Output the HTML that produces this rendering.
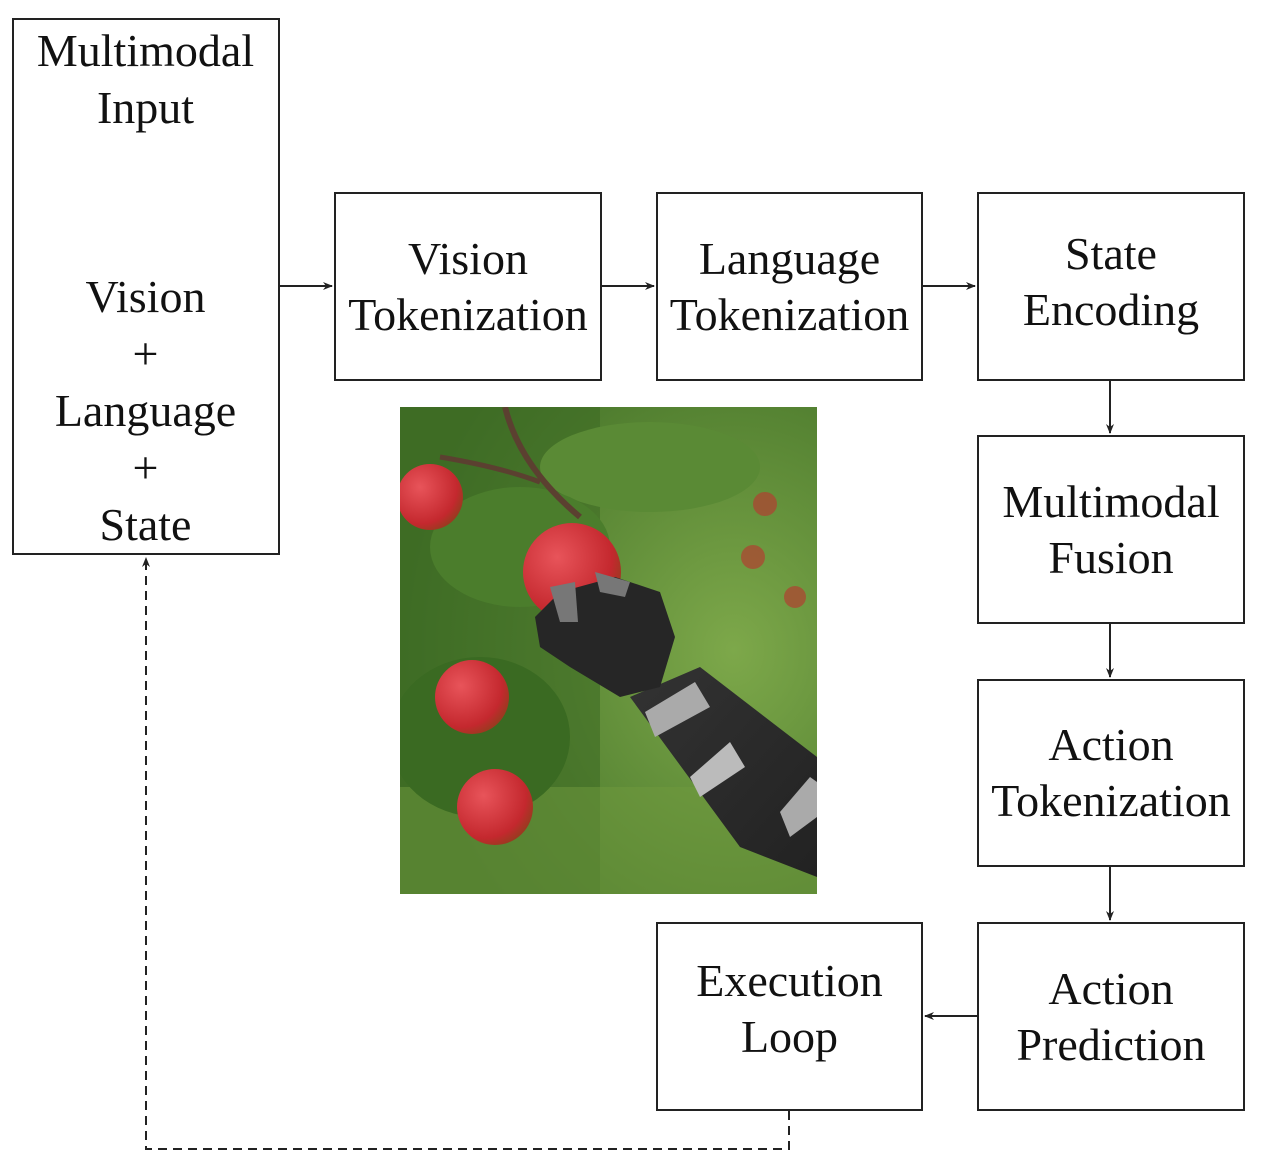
<!DOCTYPE html>
<html><head><style>
body{margin:0;width:1264px;height:1172px;background:#fff;position:relative;overflow:hidden;font-family:"Liberation Serif",serif;}
.b{position:absolute;border:2px solid #222;box-sizing:border-box;display:flex;flex-direction:column;align-items:center;justify-content:center;font-size:46px;line-height:56px;color:#111;text-align:center;white-space:nowrap;}
.t{position:absolute;font-size:46px;color:#111;width:267px;text-align:center;left:12px;}
</style></head><body>
<div class="b" style="left:12px;top:18px;width:268px;height:537px;"></div>
<div class="t" style="top:22px;line-height:57px">Multimodal<br>Input</div>
<div class="t" style="top:268px;line-height:57px">Vision<br>+<br>Language<br>+<br>State</div>
<div class="b" style="left:334px;top:192px;width:268px;height:189px;">Vision<br>Tokenization</div>
<div class="b" style="left:656px;top:192px;width:267px;height:189px;">Language<br>Tokenization</div>
<div class="b" style="left:977px;top:192px;width:268px;height:189px;padding-bottom:10px">State<br>Encoding</div>
<div class="b" style="left:977px;top:435px;width:268px;height:189px;">Multimodal<br>Fusion</div>
<div class="b" style="left:977px;top:679px;width:268px;height:188px;">Action<br>Tokenization</div>
<div class="b" style="left:977px;top:922px;width:268px;height:189px;">Action<br>Prediction</div>
<div class="b" style="left:656px;top:922px;width:267px;height:189px;padding-bottom:16px">Execution<br>Loop</div>
<svg width="1264" height="1172" style="position:absolute;left:0;top:0">
<defs><marker id="a" markerWidth="10" markerHeight="8" refX="9" refY="4" orient="auto" markerUnits="userSpaceOnUse"><path d="M0,0 L10,4 L0,8 L3,4z" fill="#222"/></marker>
<radialGradient id="bg" cx="0.8" cy="0.5" r="0.8"><stop offset="0" stop-color="#7da84a"/><stop offset="1" stop-color="#3f6e25"/></radialGradient>
<radialGradient id="ap" cx="0.35" cy="0.35" r="0.7"><stop offset="0" stop-color="#e8545a"/><stop offset="0.8" stop-color="#c4282e"/><stop offset="1" stop-color="#9a3a20"/></radialGradient>
<linearGradient id="arm" x1="0" y1="0" x2="1" y2="1"><stop offset="0" stop-color="#333"/><stop offset="1" stop-color="#222"/></linearGradient></defs>
<g stroke="#222" stroke-width="2" fill="none">
<line x1="280" y1="286" x2="332" y2="286" marker-end="url(#a)"/>
<line x1="602" y1="286" x2="654" y2="286" marker-end="url(#a)"/>
<line x1="923" y1="286" x2="975" y2="286" marker-end="url(#a)"/>
<line x1="1110" y1="381" x2="1110" y2="433" marker-end="url(#a)"/>
<line x1="1110" y1="624" x2="1110" y2="677" marker-end="url(#a)"/>
<line x1="1110" y1="867" x2="1110" y2="920" marker-end="url(#a)"/>
<line x1="977" y1="1016" x2="925" y2="1016" marker-end="url(#a)"/>
<path d="M789,1111 V1149 H146 V558" stroke-dasharray="9,6" marker-end="url(#a)"/>
</g>
<svg x="400" y="407" width="417" height="487" viewBox="0 0 417 487">
<rect width="417" height="487" fill="url(#bg)"/>
<rect x="0" y="0" width="200" height="487" fill="#3d6b24" opacity="0.6"/>
<rect x="0" y="380" width="417" height="107" fill="#6f9a3e" opacity="0.5"/>
<ellipse cx="250" cy="60" rx="110" ry="45" fill="#5a8a35"/>
<ellipse cx="120" cy="140" rx="90" ry="60" fill="#4b7d2c"/>
<ellipse cx="80" cy="330" rx="90" ry="80" fill="#3a6a22"/>
<path d="M105,0 Q120,60 180,110" stroke="#5b4030" stroke-width="6" fill="none"/>
<path d="M40,50 Q100,60 140,75" stroke="#5b4030" stroke-width="5" fill="none"/>
<circle cx="30" cy="90" r="33" fill="url(#ap)"/>
<circle cx="172" cy="165" r="49" fill="url(#ap)"/>
<circle cx="72" cy="290" r="37" fill="url(#ap)"/>
<circle cx="95" cy="400" r="38" fill="url(#ap)"/>
<circle cx="365" cy="97" r="12" fill="#b04030" opacity="0.7"/>
<circle cx="353" cy="150" r="12" fill="#b04030" opacity="0.7"/>
<circle cx="395" cy="190" r="11" fill="#b04030" opacity="0.7"/>
<path d="M230,290 L300,260 L417,350 L417,470 L340,440 Z" fill="url(#arm)"/>
<path d="M245,305 L295,275 L310,300 L255,330Z" fill="#aaa"/>
<path d="M290,370 L330,335 L345,360 L300,390Z" fill="#bbb"/>
<path d="M380,405 L410,370 L417,375 L417,410 L390,430Z" fill="#aaa"/>
<path d="M135,210 L160,185 L215,170 L260,185 L275,230 L260,280 L220,290 L170,260 L140,240Z" fill="#262626"/>
<path d="M150,180 L175,175 L178,215 L160,215Z" fill="#777"/>
<path d="M195,165 L230,175 L225,190 L200,185Z" fill="#777"/>
</svg>
</svg>
</body></html>
